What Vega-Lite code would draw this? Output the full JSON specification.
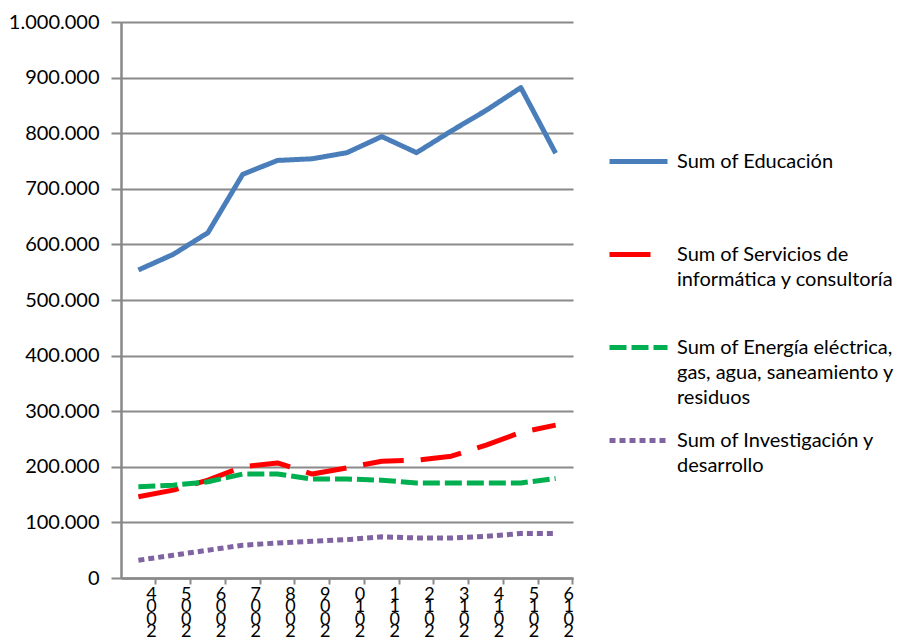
{
  "$schema": "https://vega.github.io/schema/vega-lite/v6.json",
  "autosize": "none",
  "width": 452,
  "height": 556,
  "padding": {"left": 121, "top": 22, "right": 325, "bottom": 60},
  "background": "white",
  "config": {
    "view": {"stroke": null},
    "font": "Lato",
    "locale": {"number": {"decimal": ",", "thousands": ".", "grouping": [3], "currency": ["", " €"]}},
    "axis": {"domainColor": "#898989", "domainWidth": 2.5, "tickColor": "#898989", "tickWidth": 2, "gridColor": "#8a8a8a", "gridWidth": 2, "labelFont": "Lato", "labelFontSize": 20, "labelColor": "#000000", "title": null}
  },
  "data": {
    "values": [
      {"year": "2004", "serie": "Sum of Educación", "valor": 554000},
      {"year": "2005", "serie": "Sum of Educación", "valor": 582000},
      {"year": "2006", "serie": "Sum of Educación", "valor": 621000},
      {"year": "2007", "serie": "Sum of Educación", "valor": 726000},
      {"year": "2008", "serie": "Sum of Educación", "valor": 751000},
      {"year": "2009", "serie": "Sum of Educación", "valor": 754000},
      {"year": "2010", "serie": "Sum of Educación", "valor": 765000},
      {"year": "2011", "serie": "Sum of Educación", "valor": 794000},
      {"year": "2012", "serie": "Sum of Educación", "valor": 765000},
      {"year": "2013", "serie": "Sum of Educación", "valor": 804000},
      {"year": "2014", "serie": "Sum of Educación", "valor": 841000},
      {"year": "2015", "serie": "Sum of Educación", "valor": 882000},
      {"year": "2016", "serie": "Sum of Educación", "valor": 764000},
      {"year": "2004", "serie": "Sum of Servicios de informática y consultoría", "valor": 146000},
      {"year": "2005", "serie": "Sum of Servicios de informática y consultoría", "valor": 158000},
      {"year": "2006", "serie": "Sum of Servicios de informática y consultoría", "valor": 176000},
      {"year": "2007", "serie": "Sum of Servicios de informática y consultoría", "valor": 200000},
      {"year": "2008", "serie": "Sum of Servicios de informática y consultoría", "valor": 207000},
      {"year": "2009", "serie": "Sum of Servicios de informática y consultoría", "valor": 187000},
      {"year": "2010", "serie": "Sum of Servicios de informática y consultoría", "valor": 198000},
      {"year": "2011", "serie": "Sum of Servicios de informática y consultoría", "valor": 210000},
      {"year": "2012", "serie": "Sum of Servicios de informática y consultoría", "valor": 212000},
      {"year": "2013", "serie": "Sum of Servicios de informática y consultoría", "valor": 219000},
      {"year": "2014", "serie": "Sum of Servicios de informática y consultoría", "valor": 239000},
      {"year": "2015", "serie": "Sum of Servicios de informática y consultoría", "valor": 262000},
      {"year": "2016", "serie": "Sum of Servicios de informática y consultoría", "valor": 275000},
      {"year": "2004", "serie": "Sum of Energía eléctrica, gas, agua, saneamiento y residuos", "valor": 164000},
      {"year": "2005", "serie": "Sum of Energía eléctrica, gas, agua, saneamiento y residuos", "valor": 167000},
      {"year": "2006", "serie": "Sum of Energía eléctrica, gas, agua, saneamiento y residuos", "valor": 173000},
      {"year": "2007", "serie": "Sum of Energía eléctrica, gas, agua, saneamiento y residuos", "valor": 187000},
      {"year": "2008", "serie": "Sum of Energía eléctrica, gas, agua, saneamiento y residuos", "valor": 187000},
      {"year": "2009", "serie": "Sum of Energía eléctrica, gas, agua, saneamiento y residuos", "valor": 178000},
      {"year": "2010", "serie": "Sum of Energía eléctrica, gas, agua, saneamiento y residuos", "valor": 178000},
      {"year": "2011", "serie": "Sum of Energía eléctrica, gas, agua, saneamiento y residuos", "valor": 176000},
      {"year": "2012", "serie": "Sum of Energía eléctrica, gas, agua, saneamiento y residuos", "valor": 171000},
      {"year": "2013", "serie": "Sum of Energía eléctrica, gas, agua, saneamiento y residuos", "valor": 171000},
      {"year": "2014", "serie": "Sum of Energía eléctrica, gas, agua, saneamiento y residuos", "valor": 171000},
      {"year": "2015", "serie": "Sum of Energía eléctrica, gas, agua, saneamiento y residuos", "valor": 171000},
      {"year": "2016", "serie": "Sum of Energía eléctrica, gas, agua, saneamiento y residuos", "valor": 179000},
      {"year": "2004", "serie": "Sum of Investigación y desarrollo", "valor": 32000},
      {"year": "2005", "serie": "Sum of Investigación y desarrollo", "valor": 41000},
      {"year": "2006", "serie": "Sum of Investigación y desarrollo", "valor": 50000},
      {"year": "2007", "serie": "Sum of Investigación y desarrollo", "valor": 59000},
      {"year": "2008", "serie": "Sum of Investigación y desarrollo", "valor": 63000},
      {"year": "2009", "serie": "Sum of Investigación y desarrollo", "valor": 66000},
      {"year": "2010", "serie": "Sum of Investigación y desarrollo", "valor": 69000},
      {"year": "2011", "serie": "Sum of Investigación y desarrollo", "valor": 74000},
      {"year": "2012", "serie": "Sum of Investigación y desarrollo", "valor": 72000},
      {"year": "2013", "serie": "Sum of Investigación y desarrollo", "valor": 72000},
      {"year": "2014", "serie": "Sum of Investigación y desarrollo", "valor": 75000},
      {"year": "2015", "serie": "Sum of Investigación y desarrollo", "valor": 80000},
      {"year": "2016", "serie": "Sum of Investigación y desarrollo", "valor": 80000}
    ]
  },
  "mark": {"type": "line", "strokeWidth": 5, "strokeJoin": "round"},
  "encoding": {
    "x": {
      "field": "year",
      "type": "ordinal",
      "scale": {"type": "band", "paddingInner": 0, "paddingOuter": 0},
      "axis": {
        "bandPosition": 1,
        "tickSize": 6,
        "labelPadding": 1,
        "labelAngle": 0,
        "labelAlign": "center",
        "labelBaseline": "top",
        "labelLineHeight": 12.5,
        "labelOffset": 13,
        "labelOverlap": false,
        "labelFontSize": 18,
        "labelExpr": "[substring(datum.label,3,4), substring(datum.label,2,3), substring(datum.label,1,2), substring(datum.label,0,1)]"
      }
    },
    "y": {
      "field": "valor",
      "type": "quantitative",
      "scale": {"domain": [0, 1000000]},
      "axis": {"values": [0, 100000, 200000, 300000, 400000, 500000, 600000, 700000, 800000, 900000, 1000000], "format": ",d", "tickSize": 10, "labelPadding": 12, "grid": true}
    },
    "color": {
      "field": "serie",
      "type": "nominal",
      "scale": {
        "domain": ["Sum of Educación", "Sum of Servicios de informática y consultoría", "Sum of Energía eléctrica, gas, agua, saneamiento y residuos", "Sum of Investigación y desarrollo"],
        "range": ["#4A7EBB", "#FF0000", "#00B050", "#8064A2"]
      },
      "legend": {
        "title": null,
        "orient": "none",
        "legendX": 486,
        "legendY": 108,
        "symbolType": "stroke",
        "symbolSize": 3364,
        "symbolStrokeWidth": 5,
        "labelOffset": 7,
        "labelFont": "Lato",
        "labelFontSize": 20,
        "labelLimit": 400,
        "rowPadding": 1,
        "encode": {"labels": {"update": {"lineHeight": {"value": 25}}}},
        "labelExpr": "datum.label === 'Sum of Educación' ? ['Sum of Educación', '', ''] : datum.label === 'Sum of Servicios de informática y consultoría' ? ['Sum of Servicios de', 'informática y consultoría', ''] : datum.label === 'Sum of Investigación y desarrollo' ? ['Sum of Investigación y', 'desarrollo', ''] : ['Sum of Energía eléctrica,', 'gas, agua, saneamiento y', 'residuos']"
      }
    },
    "strokeDash": {
      "field": "serie",
      "type": "nominal",
      "scale": {
        "domain": ["Sum of Educación", "Sum of Servicios de informática y consultoría", "Sum of Energía eléctrica, gas, agua, saneamiento y residuos", "Sum of Investigación y desarrollo"],
        "range": [[1, 0], [41, 17], [17, 5], [6, 4]]
      },
      "legend": null
    }
  }
}
